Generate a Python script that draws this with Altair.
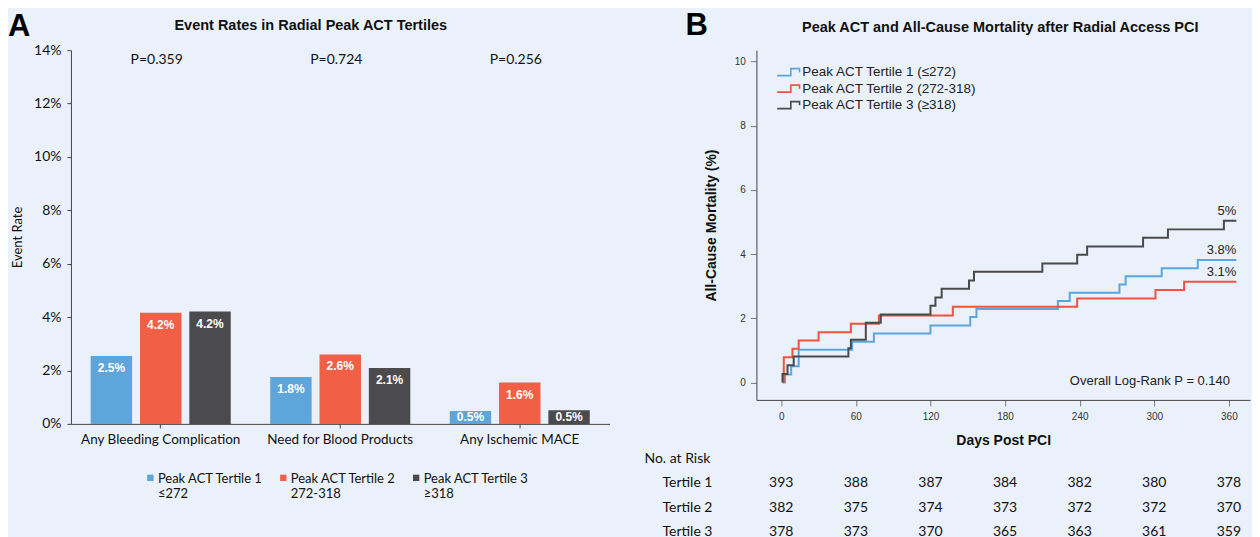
import altair as alt
import pandas as pd

# ---------------- Panel A data ----------------
categories = ["Any Bleeding Complication", "Need for Blood Products", "Any Ischemic MACE"]
tertiles_a = ["Peak ACT Tertile 1|≤272", "Peak ACT Tertile 2|272-318", "Peak ACT Tertile 3|≥318"]
rate_t1 = [2.54, 1.76, 0.48]
rate_t2 = [4.16, 2.60, 1.55]
rate_t3 = [4.21, 2.09, 0.51]
label_t1 = ["2.5%", "1.8%", "0.5%"]
label_t2 = ["4.2%", "2.6%", "1.6%"]
label_t3 = ["4.2%", "2.1%", "0.5%"]
p_values = ["P=0.359", "P=0.724", "P=0.256"]
bar_colors = ["#5DA5DA", "#F15F47", "#4B4B4D"]

# ---------------- Panel B data ----------------
tertiles_b = ["Peak ACT Tertile 1 (≤272)", "Peak ACT Tertile 2 (272-318)", "Peak ACT Tertile 3 (≥318)"]
t1_days = [1, 3, 8, 14, 57, 74.5, 120, 152, 157, 222.5, 232, 272, 277, 306, 335, 366]
t1_pct = [0, 0.25, 0.51, 1.02, 1.27, 1.53, 1.78, 2.04, 2.29, 2.54, 2.80, 3.05, 3.31, 3.56, 3.82, 3.82]
t2_days = [2, 2, 9, 14, 30, 56, 78.5, 138, 238, 301, 324, 366]
t2_pct = [0, 0.79, 1.05, 1.31, 1.57, 1.83, 2.09, 2.36, 2.62, 2.88, 3.14, 3.14]
t3_days = [1, 1, 5, 10, 54, 56, 68, 80, 120, 124, 129, 151, 155, 210, 238, 246, 291, 311, 356, 366]
t3_pct = [0, 0.27, 0.54, 0.81, 1.07, 1.33, 1.86, 2.12, 2.39, 2.65, 2.92, 3.18, 3.45, 3.71, 3.98, 4.24, 4.51, 4.77, 5.04, 5.04]
end_labels = ["3.8%", "3.1%", "5%"]
line_colors = ["#5BA6DD", "#F0533F", "#4A4A4A"]
logrank_text = "Overall Log-Rank P = 0.140"

risk_days = [0, 60, 120, 180, 240, 300, 360]
risk_rows = ["Tertile 1", "Tertile 2", "Tertile 3"]
risk_t1 = [393, 388, 387, 384, 382, 380, 378]
risk_t2 = [382, 375, 374, 373, 372, 372, 370]
risk_t3 = [378, 373, 370, 365, 363, 361, 359]

BG = "#EAF1FA"
GILL = "Lato"
ARIAL = "Liberation Sans"

# ---------------- Panel A ----------------
rows = []
for vals, labs, t in [(rate_t1, label_t1, tertiles_a[0]), (rate_t2, label_t2, tertiles_a[1]), (rate_t3, label_t3, tertiles_a[2])]:
    for c, v, l in zip(categories, vals, labs):
        rows.append({"category": c, "tertile": t, "value": v, "label": l})
bars_df = pd.DataFrame(rows)

WA, HA = 539, 374

# square legend symbol raised so that it sits beside the first label line
square_up = "M -1 -2.5 L 1 -2.5 L 1 -0.5 L -1 -0.5 Z"

xA = alt.X("category:N", sort=categories,
           scale=alt.Scale(paddingInner=0, paddingOuter=0),
           axis=alt.Axis(title=None, labelAngle=0, labelFont=GILL, labelFontSize=13.5,
                         labelColor="#111", domainColor="#444", tickColor="#444", tickSize=4,
                         labelPadding=5, labelLimit=400))
xoffA = alt.XOffset("tertile:N", sort=tertiles_a,
                    scale=alt.Scale(paddingInner=0.16, paddingOuter=0.4))
yA = alt.Y("value:Q", scale=alt.Scale(domain=[0, 14], nice=False),
           axis=alt.Axis(values=[0, 2, 4, 6, 8, 10, 12, 14], labelExpr="datum.value + '%'",
                         title="Event Rate", titleFont=GILL, titleFontSize=13, titleFontWeight="normal",
                         titleColor="#111", titleX=-46, grid=False, labelFont=GILL, labelFontSize=14,
                         labelColor="#111", domainColor="#444", tickColor="#444", tickSize=4,
                         labelPadding=6))
colA = alt.Color("tertile:N", sort=tertiles_a,
                 scale=alt.Scale(domain=tertiles_a, range=bar_colors),
                 legend=alt.Legend(title=None, orient="none", legendX=73, legendY=426,
                                   direction="horizontal", columns=3, symbolType=square_up,
                                   symbolSize=40, labelFont=GILL, labelFontSize=13,
                                   labelColor="#111", labelExpr="split(datum.label, '|')",
                                   labelBaseline="alphabetic", columnPadding=13, labelOffset=1,
                                   labelLimit=300))

bars = alt.Chart(bars_df).mark_bar().encode(x=xA, xOffset=xoffA, y=yA, color=colA)
bar_text = alt.Chart(bars_df).transform_calculate(
    label_y="max(datum.value - 0.45, datum.value / 2)"
).mark_text(color="white", fontWeight="bold", font=ARIAL, fontSize=12, baseline="middle").encode(
    x=alt.X("category:N", sort=categories), xOffset=alt.XOffset("tertile:N", sort=tertiles_a),
    y=alt.Y("label_y:Q"), text="label:N")

p_df = pd.DataFrame({"category": categories, "p": p_values})
p_text = alt.Chart(p_df).mark_text(font=GILL, fontSize=14, color="#111", baseline="middle", dx=-4).encode(
    x=alt.X("category:N", sort=categories), y=alt.value(10), text="p:N")

titleA = alt.Chart(pd.DataFrame({"t": ["Event Rates in Radial Peak ACT Tertiles"]})).mark_text(
    font=ARIAL, fontSize=14.5, fontWeight="bold", color="#111", baseline="middle").encode(
    x=alt.value(240), y=alt.value(-24), text="t:N")
letterA = alt.Chart(pd.DataFrame({"t": ["A"]})).mark_text(
    font=ARIAL, fontSize=31, fontWeight="bold", color="#000", align="left", baseline="alphabetic").encode(
    x=alt.value(-63), y=alt.value(-14), text="t:N")

panelA = alt.layer(bars, bar_text, p_text, titleA, letterA).properties(width=WA, height=HA)

# ---------------- Panel B ----------------
lrows = []
idx = 0
for t, ds, ps in [(tertiles_b[0], t1_days, t1_pct), (tertiles_b[1], t2_days, t2_pct), (tertiles_b[2], t3_days, t3_pct)]:
    for d, p in zip(ds, ps):
        lrows.append({"tertile": t, "day": d, "pct": p, "idx": idx})
        idx += 1
km_df = pd.DataFrame(lrows)

end_df = pd.DataFrame({
    "tertile": tertiles_b,
    "day": [t1_days[-1], t2_days[-1], t3_days[-1]],
    "pct": [t1_pct[-1], t2_pct[-1], t3_pct[-1]],
    "label": end_labels,
})

WB, HB = 494, 350
xB_scale = alt.Scale(domain=[-20, 377], nice=False, zero=False)
yB_scale = alt.Scale(domain=[-0.54, 10.35], nice=False, zero=False)

step_path = "M -1.6 0.5 L 0.35 0.5 L 0.35 -0.5 L 1.6 -0.5 L 1.6 0"

lines = alt.Chart(km_df).mark_line(interpolate="step-after", strokeWidth=2).encode(
    x=alt.X("day:Q", scale=xB_scale,
            axis=alt.Axis(values=risk_days, title="Days Post PCI", titleFont=ARIAL, titleFontSize=14,
                          titleFontWeight="bold", titleColor="#111", titlePadding=12, grid=False,
                          labelFont=ARIAL, labelFontSize=10, labelColor="#333", tickSize=6,
                          tickColor="#777", domainColor="#444", labelPadding=6)),
    y=alt.Y("pct:Q", scale=yB_scale,
            axis=alt.Axis(values=[0, 2, 4, 6, 8, 10], title="All-Cause Mortality (%)", titleFont=ARIAL,
                          titleFontSize=14, titleFontWeight="bold", titleColor="#111", titleX=-38,
                          grid=False, labelFont=ARIAL, labelFontSize=10, labelColor="#333", tickSize=6,
                          tickColor="#777", domainColor="#444", labelPadding=5)),
    color=alt.Color("tertile:N", sort=tertiles_b, scale=alt.Scale(domain=tertiles_b, range=line_colors),
                    legend=alt.Legend(title=None, orient="none", legendX=24, legendY=14,
                                      symbolType=step_path, symbolSize=196, symbolStrokeWidth=1.6,
                                      labelFont=ARIAL, labelFontSize=13.5, labelColor="#222",
                                      labelOffset=6, rowPadding=1.5, labelLimit=400)),
    order=alt.Order("idx:Q"),
)

end_text = alt.Chart(end_df).mark_text(font=ARIAL, fontSize=13, color="#222", align="right",
                                       baseline="bottom", dy=-3).encode(
    x=alt.X("day:Q", scale=xB_scale), y=alt.Y("pct:Q", scale=yB_scale), text="label:N")

logrank = alt.Chart(pd.DataFrame({"t": [logrank_text]})).mark_text(
    font=ARIAL, fontSize=13, color="#222", align="right", baseline="middle").encode(
    x=alt.value(474), y=alt.value(331), text="t:N")

titleB = alt.Chart(pd.DataFrame({"t": ["Peak ACT and All-Cause Mortality after Radial Access PCI"]})).mark_text(
    font=ARIAL, fontSize=14.5, fontWeight="bold", color="#111", baseline="middle").encode(
    x=alt.value(244), y=alt.value(-22), text="t:N")
letterB = alt.Chart(pd.DataFrame({"t": ["B"]})).mark_text(
    font=ARIAL, fontSize=31, fontWeight="bold", color="#000", align="left", baseline="alphabetic").encode(
    x=alt.value(-71), y=alt.value(-15), text="t:N")

risk_layers = []
risk_y = [433, 458, 482]
for rname, vals, ry in zip(risk_rows, [risk_t1, risk_t2, risk_t3], risk_y):
    rdf = pd.DataFrame({"day": risk_days, "n": vals})
    risk_layers.append(alt.Chart(rdf).mark_text(font=GILL, fontSize=14, color="#111", baseline="middle").encode(
        x=alt.X("day:Q", scale=xB_scale), y=alt.value(ry), text="n:Q"))
    risk_layers.append(alt.Chart(pd.DataFrame({"t": [rname]})).mark_text(
        font=GILL, fontSize=14, color="#111", align="left", baseline="middle").encode(
        x=alt.value(-94), y=alt.value(ry), text="t:N"))
risk_head = alt.Chart(pd.DataFrame({"t": ["No. at Risk"]})).mark_text(
    font=GILL, fontSize=14, color="#111", align="left", baseline="middle").encode(
    x=alt.value(-112), y=alt.value(409), text="t:N")

panelB = alt.layer(lines, end_text, logrank, titleB, letterB, risk_head, *risk_layers).properties(
    width=WB, height=HB)

chart = alt.hconcat(panelA, panelB, spacing=147, bounds="flush").resolve_scale(
    color="independent", x="independent", y="independent"
).configure(background=BG, padding={"left": 0, "top": 2, "right": 2, "bottom": 0}).configure_view(stroke=None)

chart.save("out.html", embed_options={"renderer": "svg", "actions": False})
